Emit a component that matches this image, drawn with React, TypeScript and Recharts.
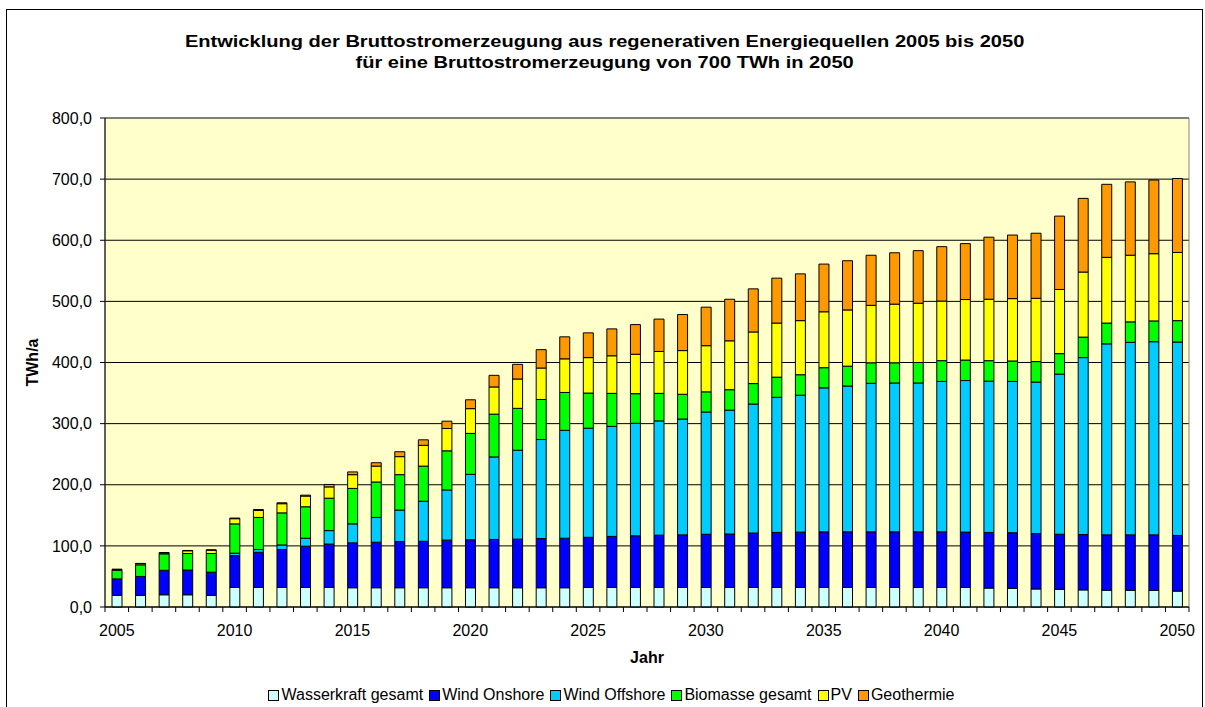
import { BarChart, Bar, XAxis, YAxis, CartesianGrid, Legend, ReferenceArea } from 'recharts'

// categories
const years = [
  2005, 2006, 2007, 2008, 2009, 2010, 2011, 2012, 2013, 2014,
  2015, 2016, 2017, 2018, 2019, 2020, 2021, 2022, 2023, 2024,
  2025, 2026, 2027, 2028, 2029, 2030, 2031, 2032, 2033, 2034,
  2035, 2036, 2037, 2038, 2039, 2040, 2041, 2042, 2043, 2044,
  2045, 2046, 2047, 2048, 2049, 2050,
]

// TWh/a per source
const wasserkraft = [
  19, 19, 20, 20, 19, 32, 32, 32, 32, 32,
  31.5, 31.5, 31.5, 31.5, 31.5, 31.5, 31.5, 31.5, 31.5, 31.5,
  32, 32, 32, 32, 32, 32, 32, 32, 32, 32,
  32, 32, 32, 32, 32, 32, 32, 31, 30.5, 29.5,
  29, 28, 27.5, 27, 27, 26,
]
const windOnshore = [
  27, 31, 40, 40.5, 38, 52, 57.5, 62, 67.5, 71,
  73.5, 74.5, 75.5, 76, 78, 78.5, 79, 79.5, 80.5, 81,
  82, 83.5, 84.5, 85.5, 86, 87, 87.5, 89, 90, 90.5,
  91, 91, 91, 91, 91, 91, 90.5, 91, 91, 90.5,
  90, 90.5, 90.5, 91, 91, 91,
]
const windOffshore = [
  0, 0, 0, 0, 0, 4, 4.5, 7.5, 13, 22,
  31, 40.5, 51.5, 65.5, 82, 107, 135, 145.5, 162, 176.5,
  178.5, 180, 184, 187, 189.5, 200, 202.5, 211, 221, 224,
  235.5, 238.5, 243, 243.5, 243.5, 246, 248, 247.5, 247.5, 248,
  262, 289.5, 312.5, 315, 316, 316.5,
]
const biomasse = [
  14, 19, 27, 27, 30.5, 48, 52.5, 52.5, 51.5, 53,
  58, 58, 58, 57.5, 64, 67, 70, 68.5, 65.5, 62,
  57.5, 54, 48.5, 45, 40.5, 33, 33.5, 33.5, 33, 33.5,
  33, 32.5, 33.5, 33, 33.5, 34, 33.5, 33.5, 33.5, 33.5,
  33.5, 33.5, 34, 33.5, 34, 35,
]
const pv = [
  1.5, 2, 1.5, 4.5, 5.5, 8.5, 11.5, 15, 17.5, 18.5,
  22.5, 26, 29.5, 34, 36.5, 40.5, 44.5, 48, 51.5, 55,
  58, 61.5, 64.5, 68.5, 71.5, 75.5, 80, 84.5, 88.5, 88.5,
  91.5, 92, 94, 96, 97, 97.5, 99, 100.5, 102, 103.5,
  105, 106.5, 107.5, 109, 110, 111.5,
]
const geothermie = [
  0.2, 0.3, 0.5, 0.5, 0.5, 1, 1.5, 1.5, 1.5, 4,
  4.5, 5.5, 8, 9, 12, 14.5, 19, 24, 30, 36,
  40.5, 44, 48.5, 53, 59, 63, 68, 70.5, 73.5, 76.5,
  78, 80.5, 82, 84, 86, 89, 91.5, 101.5, 104, 106.5,
  120, 120.5, 119.5, 120, 120.5, 121,
]

const yTicks = [0, 100, 200, 300, 400, 500, 600, 700, 800]

const series = [
  { key: 'wasserkraft', name: 'Wasserkraft gesamt', color: '#CCFFFF' },
  { key: 'windOnshore', name: 'Wind Onshore', color: '#0000FF' },
  { key: 'windOffshore', name: 'Wind Offshore', color: '#00CCFF' },
  { key: 'biomasse', name: 'Biomasse gesamt', color: '#00FF00' },
  { key: 'pv', name: 'PV', color: '#FFFF00' },
  { key: 'geothermie', name: 'Geothermie', color: '#FF9900' },
]

const data = years.map((year, i) => ({
  year,
  wasserkraft: wasserkraft[i],
  windOnshore: windOnshore[i],
  windOffshore: windOffshore[i],
  biomasse: biomasse[i],
  pv: pv[i],
  geothermie: geothermie[i],
}))

const FONT = "Arial, 'Liberation Sans', Helvetica, sans-serif"
const CHART_W = 1205
const CHART_H = 707
const MARGIN = { top: 118, right: 16, bottom: 0, left: 0 }
const Y_AXIS_W = 105
const LEGEND_H = 24
const X_AXIS_H = 100 - LEGEND_H
const BAND = (CHART_W - MARGIN.left - MARGIN.right - Y_AXIS_W) / years.length

const fmt = (v: number) => v.toFixed(1).replace('.', ',')

// Excel style: tick marks between categories, label every 5 years
function YearTick(props: any) {
  const { x, y, payload, index } = props
  const half = BAND / 2
  const year = Number(payload.value)
  return (
    <g>
      <line x1={x - half} y1={y} x2={x - half} y2={y + 5} stroke="#000" />
      {index === years.length - 1 && <line x1={x + half} y1={y} x2={x + half} y2={y + 5} stroke="#000" />}
      {year % 5 === 0 && (
        <text x={x} y={y + 23} textAnchor="middle" dominantBaseline="central" fill="#000" fontSize={16} fontFamily={FONT}>
          {year}
        </text>
      )}
    </g>
  )
}

function YLabel(props: any) {
  const vb = props.viewBox
  const cx = vb.x + 32
  const cy = vb.y + vb.height / 2
  return (
    <text x={cx} y={cy} transform={`rotate(-90, ${cx}, ${cy})`} textAnchor="middle" dominantBaseline="central"
      fontSize={16} fontWeight="bold" fontFamily={FONT} fill="#000">
      TWh/a
    </text>
  )
}

function LegendContent(props: any) {
  // keep the series order (recharts sorts the payload by name)
  const order = series.map((s) => s.name)
  const items = [...(props.payload || [])].sort((a: any, b: any) => order.indexOf(a.value) - order.indexOf(b.value))
  return (
    <div style={{ display: 'flex', justifyContent: 'center', alignItems: 'center', height: LEGEND_H, fontFamily: FONT, fontSize: 16, color: '#000', paddingLeft: 40 }}>
      {items.map((it: any) => (
        <span key={it.value} style={{ display: 'flex', alignItems: 'center', marginRight: 6 }}>
          <span style={{ display: 'inline-block', width: 9, height: 9, background: it.color, border: '1px solid #000', marginRight: 2 }} />
          {it.value}
        </span>
      ))}
    </div>
  )
}

export default function App() {
  return (
    <div style={{ position: 'absolute', left: 0, top: 0, width: CHART_W, height: CHART_H, background: '#fff', overflow: 'hidden' }}>
      <div style={{ position: 'absolute', left: 6, top: 9, width: 1197, height: 720, border: '1px solid #000', boxSizing: 'border-box' }} />
      <div style={{ position: 'absolute', left: 6, top: 31, width: 1197, textAlign: 'center', fontFamily: FONT, fontWeight: 'bold', fontSize: 17, lineHeight: '21px', color: '#000', transform: 'scaleX(1.18)', transformOrigin: '598px 0' }}>
        <div>Entwicklung der Bruttostromerzeugung aus regenerativen Energiequellen 2005 bis 2050</div>
        <div>für eine Bruttostromerzeugung von 700 TWh in 2050</div>
      </div>
      <div style={{ position: 'absolute', left: 0, top: 0 }}>
        <BarChart width={CHART_W} height={CHART_H} data={data} margin={MARGIN} barSize={10}>
          <CartesianGrid vertical={false} stroke="#000" fill="#FFFFCC" />
          <ReferenceArea y1={0} y2={800} fill="none" stroke="#808080" ifOverflow="visible" />
          <XAxis
            dataKey="year"
            height={X_AXIS_H}
            interval={0}
            tickSize={0}
            tickMargin={0}
            tickLine={false}
            axisLine={{ stroke: '#000' }}
            tick={<YearTick />}
            label={{ value: 'Jahr', position: 'insideBottom', offset: 20, fill: '#000', fontSize: 16, fontWeight: 'bold', fontFamily: FONT }}
          />
          <YAxis
            width={Y_AXIS_W}
            domain={[0, 800]}
            ticks={yTicks}
            tickFormatter={fmt}
            axisLine={{ stroke: '#000' }}
            tickLine={{ stroke: '#000' }}
            tickSize={5}
            tickMargin={8}
            tick={{ fill: '#000', fontSize: 16, fontFamily: FONT }}
            label={(p: any) => <YLabel {...p} />}
          />
          <Legend verticalAlign="bottom" height={LEGEND_H} content={<LegendContent />} />
          {series.map((s) => (
            <Bar key={s.key} dataKey={s.key} name={s.name} stackId="a" fill={s.color} stroke="#000" strokeWidth={1} isAnimationActive={false} />
          ))}
        </BarChart>
      </div>
    </div>
  )
}
